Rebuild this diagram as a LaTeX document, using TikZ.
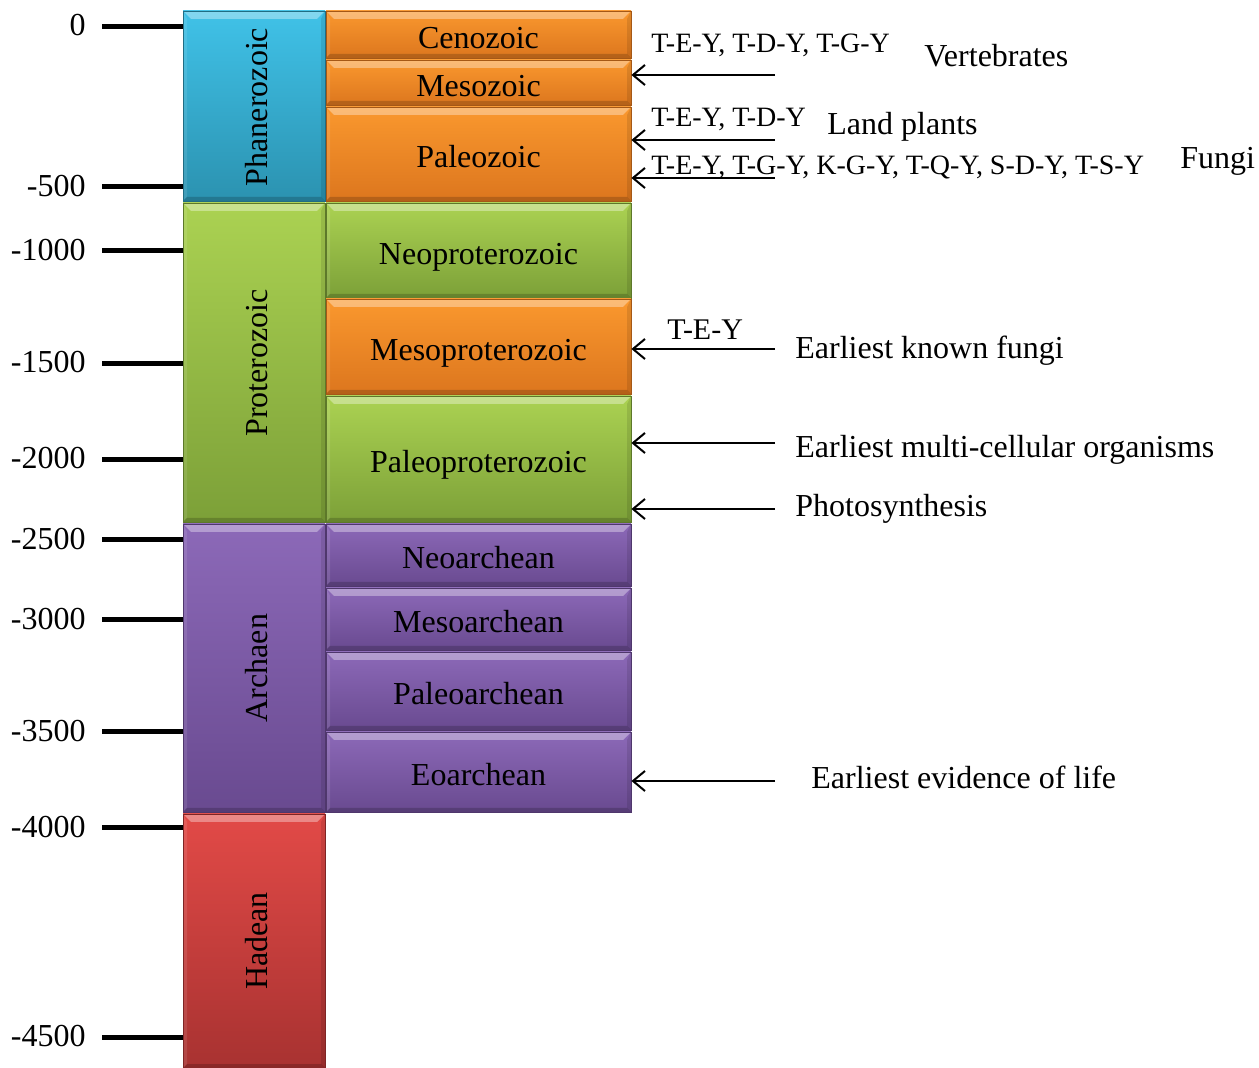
\documentclass[tikz,border=0pt]{standalone}
\usepackage{fontspec}
\setmainfont{Liberation Serif}
\usetikzlibrary{arrows.meta}
\definecolor{bluT}{HTML}{40C2E8}\definecolor{bluB}{HTML}{2B92B0}
\definecolor{orT}{HTML}{FA982E}\definecolor{orB}{HTML}{DC761E}
\definecolor{grT}{HTML}{ABD252}\definecolor{grB}{HTML}{7CA038}
\definecolor{puT}{HTML}{8C69B8}\definecolor{puB}{HTML}{694A90}
\definecolor{reT}{HTML}{E24A47}\definecolor{reB}{HTML}{A83231}
\tikzset{
  bev/.style 2 args={draw=#2!75!black, line width=0.4pt, top color=#1, bottom color=#2, inner sep=0pt,
    font=\fontsize{16}{19}\selectfont, text height=14pt, text depth=0pt,
    path picture={
      \fill[white,opacity=.35] (path picture bounding box.north west) -- (path picture bounding box.north east)
        -- ([xshift=-4pt,yshift=-4pt]path picture bounding box.north east) -- ([xshift=4pt,yshift=-4pt]path picture bounding box.north west) -- cycle;
      \fill[black,opacity=.18] (path picture bounding box.south west) -- (path picture bounding box.south east)
        -- ([xshift=-2pt,yshift=2pt]path picture bounding box.south east) -- ([xshift=2pt,yshift=2pt]path picture bounding box.south west) -- cycle;
      \fill[black,opacity=.10] (path picture bounding box.north east) -- (path picture bounding box.south east)
        -- ([xshift=-2pt,yshift=2pt]path picture bounding box.south east) -- ([xshift=-2pt,yshift=-4pt]path picture bounding box.north east) -- cycle;
      \fill[white,opacity=.10] (path picture bounding box.north west) -- (path picture bounding box.south west)
        -- ([xshift=2pt,yshift=2pt]path picture bounding box.south west) -- ([xshift=2pt,yshift=-4pt]path picture bounding box.north west) -- cycle;
    }},
  eon/.style={minimum width=71pt},
  era/.style={minimum width=152.5pt},
  big/.style={font=\fontsize{16}{19}\selectfont, inner sep=0pt},
  small/.style={font=\fontsize{14}{16}\selectfont, inner sep=0pt},
  tick/.style={line width=2.5pt, black},
  arr/.style={line width=1pt, -{Straight Barb[length=6pt,width=10pt]}},
}
\begin{document}
\begin{tikzpicture}[x=0.5pt,y=-0.5pt]
\useasboundingbox[fill=white] (0,0) rectangle (1259,1068);
% eons
\node[bev={bluT}{bluB}, eon, minimum height=95pt] (phan) at (254,106) {};
\node[bev={grT}{grB}, eon, minimum height=159.5pt] (prot) at (254,362.5) {};
\node[bev={puT}{puB}, eon, minimum height=144pt] (arch) at (254,668) {};
\node[bev={reT}{reB}, eon, minimum height=127pt] (hade) at (254,941) {};
\node[big, rotate=90] (phanl) at (257,107) {Phanerozoic};
\node[big, rotate=90] (protl) at (257,363) {Proterozoic};
\node[big, rotate=90] (archl) at (257,668) {Archaen};
\node[big, rotate=90] (hadel) at (257,941) {Hadean};
% eras
\node[bev={orT}{orB}, era, minimum height=23.5pt] (ceno) at (478.5,34.5) {Cenozoic};
\node[bev={orT}{orB}, era, minimum height=22.5pt] (meso) at (478.5,82.5) {Mesozoic};
\node[bev={orT}{orB}, era, minimum height=47pt] (pale) at (478.5,154) {Paleozoic};
\node[bev={grT}{grB}, era, minimum height=47.5pt] (neop) at (478.5,250.5) {Neoproterozoic};
\node[bev={orT}{orB}, era, minimum height=47.5pt] (mesop) at (478.5,346.5) {Mesoproterozoic};
\node[bev={grT}{grB}, era, minimum height=63pt] (palep) at (478.5,459) {Paleoproterozoic};
\node[bev={puT}{puB}, era, minimum height=31pt] (neoa) at (478.5,555) {Neoarchean};
\node[bev={puT}{puB}, era, minimum height=31pt] (mesoa) at (478.5,619) {Mesoarchean};
\node[bev={puT}{puB}, era, minimum height=39pt] (palea) at (478.5,691) {Paleoarchean};
\node[bev={puT}{puB}, era, minimum height=40pt] (eoa) at (478.5,772) {Eoarchean};
% ticks
\foreach \v/\y/\ly in {0/27/25, -500/187/186, -1000/251/250, -1500/364/362, -2000/460/458, -2500/540/539, -3000/620/619, -3500/732/731, -4000/828/827, -4500/1037/1036}{
  \node[big, anchor=east] (lab\v) at (86,\ly) {\v};
  \coordinate (k\v) at (102,\y);
  \draw[tick] (k\v) -- (k\v -| phan.west);
}
% arrows
\coordinate (a1) at (775,75);
\coordinate (a2) at (775,140);
\coordinate (a3) at (775,178);
\coordinate (a4) at (775,349);
\coordinate (a5) at (775,443);
\coordinate (a6) at (775,509);
\coordinate (a7) at (775,781);
\draw[arr] (a1) -- (a1 -| meso.east);
\draw[arr] (a2) -- (a2 -| pale.east);
\draw[arr] (a3) -- (a3 -| pale.east);
\draw[arr] (a4) -- (a4 -| mesop.east);
\draw[arr] (a5) -- (a5 -| palep.east);
\draw[arr] (a6) -- (a6 -| palep.east);
\draw[arr] (a7) -- (a7 -| eoa.east);
% labels
\node[small, anchor=base west] (s1) at (651,53) {T-E-Y, T-D-Y, T-G-Y};
\node[big, anchor=base west] (l1) at (924,67) {Vertebrates};
\node[small, anchor=base west] (s2) at (651,127) {T-E-Y, T-D-Y};
\node[big, anchor=base west] (l2) at (827,135) {Land plants};
\node[small, anchor=base west] (s3) at (651,175) {T-E-Y, T-G-Y, K-G-Y, T-Q-Y, S-D-Y, T-S-Y};
\node[big, anchor=base west] (l3) at (1180,169) {Fungi};
\node[font=\fontsize{15}{18}\selectfont, inner sep=0pt, anchor=base west] (s4) at (667,340) {T-E-Y};
\node[big, anchor=base west] (l4) at (795,359) {Earliest known fungi};
\node[big, anchor=base west] (l5) at (795,458) {Earliest multi-cellular organisms};
\node[big, anchor=base west] (l6) at (795,517) {Photosynthesis};
\node[big, anchor=base west] (l7) at (811,789) {Earliest evidence of life};
\end{tikzpicture}
\end{document}
